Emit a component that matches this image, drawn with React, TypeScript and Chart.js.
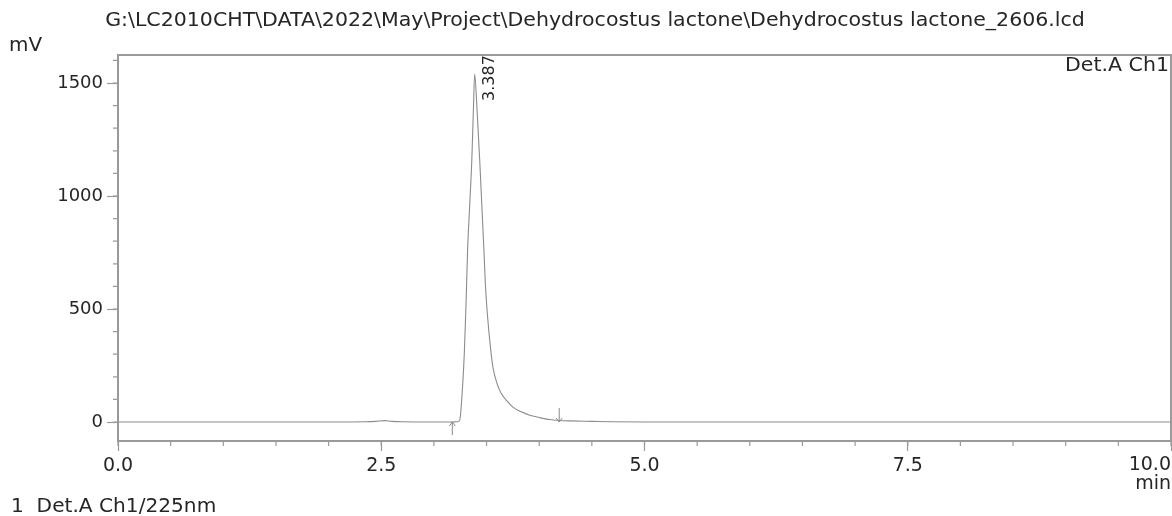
import { useEffect, useRef } from 'react';
import { Chart, registerables } from 'chart.js';

Chart.register(...registerables);

const TITLE = 'G:\\LC2010CHT\\DATA\\2022\\May\\Project\\Dehydrocostus lactone\\Dehydrocostus lactone_2606.lcd';
const Y_UNIT = 'mV';
const X_UNIT = 'min';
const CHANNEL = 'Det.A Ch1';
const FOOTER = '1  Det.A Ch1/225nm';

// retention time (min) and detector signal (mV)
const timeMin = [
  0, 0.5, 1.0, 1.5, 2.0, 2.35, 2.45, 2.53, 2.6, 2.7, 3.0, 3.15, 3.22, 3.245,
  3.27, 3.29, 3.305, 3.32, 3.34, 3.36, 3.375, 3.387, 3.41, 3.435, 3.455, 3.475,
  3.49, 3.51, 3.535, 3.56, 3.6, 3.64, 3.7, 3.75, 3.83, 3.91, 4.0, 4.1, 4.19,
  4.3, 4.5, 4.7, 5.0, 6.0, 7.0, 8.0, 9.0, 10.0,
];
const signalMv = [
  0, 0, 0, 0, 0, 1, 3, 6, 3, 1, 0, 0, 1, 8,
  140, 317, 520, 760, 960, 1159, 1380, 1540, 1380, 1159, 960, 760,
  600, 465, 340, 244, 170, 126, 90, 66, 45, 30, 20, 11, 7,
  5, 3, 1, 0, 0, 0, 0, 0, 0,
];

const xTickValues = [0, 2.5, 5, 7.5, 10];
const xTickLabels = ['0.0', '2.5', '5.0', '7.5', '10.0'];
const xMinorStep = 0.5;
const yTickValues = [0, 500, 1000, 1500];
const yTickLabels = ['0', '500', '1000', '1500'];
const yMinorStep = 100;
const X_MIN = 0;
const X_MAX = 10;
const Y_MIN = -84;
const Y_MAX = 1624;

const peakTimes = [3.387];
const peakHeights = [1540];
const peakLabels = ['3.387'];
const peakStartTimes = [3.175];
const peakEndTimes = [4.19];

const FONT = '"DejaVu Sans", Arial, Helvetica, sans-serif';
const TEXT = '#262626';
const AXIS = '#9a9a9a';

function drawText(
  ctx: CanvasRenderingContext2D,
  text: string,
  x: number,
  y: number,
  align: CanvasTextAlign,
  sx: number,
) {
  ctx.save();
  ctx.translate(x, y);
  ctx.scale(sx, 1);
  ctx.textAlign = align;
  ctx.textBaseline = 'middle';
  ctx.fillText(text, 0, 0);
  ctx.restore();
}

export default function App() {
  const ref = useRef<HTMLCanvasElement | null>(null);

  useEffect(() => {
    const canvas = ref.current;
    if (!canvas) return;

    const decor = {
      id: 'decor',
      afterDraw(chart: any) {
        const ctx = chart.ctx as CanvasRenderingContext2D;
        const xs = chart.scales.x;
        const ys = chart.scales.y;
        const a = chart.chartArea;
        ctx.save();

        // top and right frame
        ctx.strokeStyle = AXIS;
        ctx.lineWidth = 2;
        ctx.beginPath();
        ctx.moveTo(a.left, a.top);
        ctx.lineTo(a.right, a.top);
        ctx.lineTo(a.right, a.bottom);
        ctx.stroke();

        // minor ticks
        ctx.lineWidth = 1.2;
        ctx.beginPath();
        for (let v = X_MIN; v <= X_MAX + 1e-9; v += xMinorStep) {
          const px = xs.getPixelForValue(v);
          ctx.moveTo(px, a.bottom);
          ctx.lineTo(px, a.bottom + 5);
        }
        for (let v = 0; v <= Y_MAX; v += yMinorStep) {
          const py = ys.getPixelForValue(v);
          ctx.moveTo(a.left - 5, py);
          ctx.lineTo(a.left, py);
        }
        ctx.stroke();

        // peak start/end markers
        ctx.strokeStyle = '#8a8a8a';
        ctx.lineWidth = 1;
        const y0 = ys.getPixelForValue(0);
        peakStartTimes.forEach((t) => {
          const px = xs.getPixelForValue(t);
          ctx.beginPath();
          ctx.moveTo(px, y0 + 13);
          ctx.lineTo(px, y0);
          ctx.moveTo(px - 3, y0 + 4);
          ctx.lineTo(px, y0);
          ctx.lineTo(px + 3, y0 + 4);
          ctx.stroke();
        });
        peakEndTimes.forEach((t) => {
          const px = xs.getPixelForValue(t);
          ctx.beginPath();
          ctx.moveTo(px, y0 - 14);
          ctx.lineTo(px, y0);
          ctx.moveTo(px - 3, y0 - 4);
          ctx.lineTo(px, y0);
          ctx.lineTo(px + 3, y0 - 4);
          ctx.stroke();
        });

        // texts
        ctx.fillStyle = TEXT;
        ctx.font = `19px ${FONT}`;
        drawText(ctx, TITLE, 595, 21, 'center', 1.08);
        drawText(ctx, Y_UNIT, 9, 46, 'left', 1.05);
        drawText(ctx, FOOTER, 11, 507, 'left', 1.06);
        drawText(ctx, CHANNEL, a.right - 2, 66, 'right', 1.08);
        drawText(ctx, X_UNIT, a.right, 484, 'right', 1.0);
        drawText(ctx, xTickLabels[xTickLabels.length - 1], a.right, 465, 'right', 1.0);

        // peak labels
        ctx.font = `16px ${FONT}`;
        peakTimes.forEach((t, i) => {
          const px = xs.getPixelForValue(t);
          const py = ys.getPixelForValue(peakHeights[i]);
          ctx.save();
          ctx.translate(px + 15, py + 27);
          ctx.rotate(-Math.PI / 2);
          ctx.textAlign = 'left';
          ctx.textBaseline = 'middle';
          ctx.fillText(peakLabels[i], 0, 0);
          ctx.restore();
        });

        ctx.restore();
      },
    };

    const chart = new Chart(canvas, {
      type: 'line',
      data: {
        datasets: [
          {
            data: timeMin.map((t, i) => ({ x: t, y: signalMv[i] })),
            borderColor: '#8c8c8c',
            borderWidth: 1.1,
            pointRadius: 0,
            cubicInterpolationMode: 'monotone',
            fill: false,
          },
        ],
      },
      options: {
        animation: false,
        responsive: false,
        maintainAspectRatio: false,
        layout: { padding: { left: 0, top: 55, right: 1, bottom: 0 } },
        plugins: { legend: { display: false }, tooltip: { enabled: false }, title: { display: false } },
        scales: {
          x: {
            type: 'linear',
            min: X_MIN,
            max: X_MAX,
            afterBuildTicks: (s: any) => {
              s.ticks = xTickValues.map((v) => ({ value: v }));
            },
            afterFit: (s: any) => {
              s.height = 75;
              s.paddingRight = 0;
              s.paddingLeft = 0;
            },
            ticks: {
              autoSkip: false,
              maxRotation: 0,
              padding: 4,
              color: TEXT,
              font: { family: FONT, size: 19 },
              callback: (v: any) => {
                const i = xTickValues.indexOf(Number(v));
                if (i < 0 || i === xTickValues.length - 1) return '';
                return xTickLabels[i];
              },
            },
            grid: { drawOnChartArea: false, tickLength: 10, tickColor: AXIS, tickWidth: 1.2 },
            border: { display: true, color: AXIS, width: 2 },
          },
          y: {
            type: 'linear',
            min: Y_MIN,
            max: Y_MAX,
            afterBuildTicks: (s: any) => {
              s.ticks = yTickValues.map((v) => ({ value: v }));
            },
            afterFit: (s: any) => {
              s.width = 118;
            },
            ticks: {
              padding: 4,
              color: TEXT,
              font: { family: FONT, size: 18 },
              callback: (v: any) => {
                const i = yTickValues.indexOf(Number(v));
                return i < 0 ? '' : yTickLabels[i];
              },
            },
            grid: { drawOnChartArea: false, tickLength: 11, tickColor: AXIS, tickWidth: 1.2 },
            border: { display: true, color: AXIS, width: 2 },
          },
        },
      },
      plugins: [decor],
    } as any);

    return () => chart.destroy();
  }, []);

  return (
    <div style={{ position: 'fixed', left: 0, top: 0, width: 1172, height: 516, background: '#fff' }}>
      <canvas ref={ref} width={1172} height={516} style={{ display: 'block' }} />
    </div>
  );
}
